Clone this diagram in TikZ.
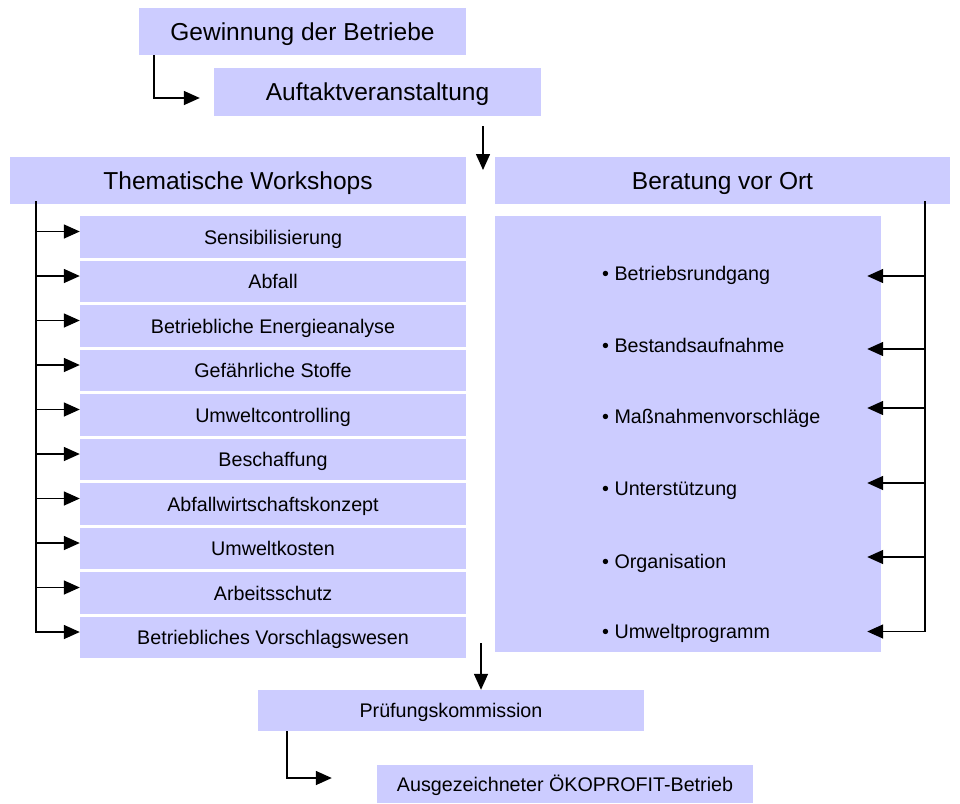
\documentclass[tikz,border=0pt]{standalone}
\usepackage{fontspec}
\setmainfont{Liberation Sans}
\usetikzlibrary{positioning,arrows.meta}
\definecolor{lila}{RGB}{204,204,255}

\begin{document}
\begin{tikzpicture}[x=1pt,y=1pt,
    box/.style={fill=lila,inner sep=0pt,minimum width=386pt,minimum height=41.5pt,
      text height=14.1pt,text depth=0pt,font=\fontsize{19.7}{24}\selectfont},
    head/.style={fill=lila,inner sep=0pt,minimum height=47pt,
      text height=17.5pt,text depth=0pt,font=\fontsize{24.5}{29}\selectfont},
    punkt/.style={inner sep=0pt,anchor=west,text height=14.1pt,text depth=0pt,
      font=\fontsize{19.7}{24}\selectfont},
    pfeil/.style={line width=1.5pt,-{Triangle[length=16pt,width=14pt]}},
    node distance=2.6pt]
  \useasboundingbox (0,0) rectangle (960,-803);

  % --- Start nodes ---
  \node[head,minimum width=327pt] (G) at (302.5,-31.5) {Gewinnung der Betriebe};
  \node[head,minimum width=327pt,minimum height=48pt] (A) at (377.5,-92) {Auftaktveranstaltung};
  \draw[pfeil] ([xshift=15pt]G.south west) |- ([xshift=-14pt,yshift=-6pt]A.west);

  % --- Two branches ---
  \node[head,minimum width=456pt] (T) at (238,-180.5) {Thematische Workshops};
  \node[head,minimum width=455pt] (B) at (722.5,-180.5) {Beratung vor Ort};
  \coordinate (o1) at (483,-126);
  \coordinate (o2) at (483,-170);
  \draw[pfeil] (o1) -- (o2);

  % --- Workshops placed below one another ---
  \node[box] (W1) at (273,-237) {Sensibilisierung};
  \node[box,below=of W1] (W2) {Abfall};
  \node[box,below=of W2] (W3) {Betriebliche Energieanalyse};
  \node[box,below=of W3] (W4) {Gefährliche Stoffe};
  \node[box,below=of W4] (W5) {Umweltcontrolling};
  \node[box,below=of W5] (W6) {Beschaffung};
  \node[box,below=of W6] (W7) {Abfallwirtschaftskonzept};
  \node[box,below=of W7] (W8) {Umweltkosten};
  \node[box,below=of W8] (W9) {Arbeitsschutz};
  \node[box,below=of W9] (W10) {Betriebliches Vorschlagswesen};

  % --- Workshop edges ---
  \coordinate (lt) at (36,-201);
  \draw[pfeil] (lt) |- ([yshift=5.5pt]W1.west);
  \draw[pfeil] (lt) |- ([yshift=5.5pt]W2.west);
  \draw[pfeil] (lt) |- ([yshift=5.5pt]W3.west);
  \draw[pfeil] (lt) |- ([yshift=5.5pt]W4.west);
  \draw[pfeil] (lt) |- ([yshift=5.5pt]W5.west);
  \draw[pfeil] (lt) |- ([yshift=5.5pt]W6.west);
  \draw[pfeil] (lt) |- ([yshift=5.5pt]W7.west);
  \draw[pfeil] (lt) |- ([yshift=5.5pt]W8.west);
  \draw[pfeil] (lt) |- ([yshift=5.5pt]W9.west);
  \draw[pfeil] (lt) |- ([yshift=5.5pt]W10.west);

  % --- Consulting block ---
  \node[fill=lila,inner sep=0pt,minimum width=386pt,minimum height=436pt] (V) at (688,-434) {};
  \node[punkt] (V1) at (602,-273.5) {• Betriebsrundgang};
  \node[punkt] (V2) at (602,-345) {• Bestandsaufnahme};
  \node[punkt] (V3) at (602,-416.5) {• Maßnahmenvorschläge};
  \node[punkt] (V4) at (602,-488.5) {• Unterstützung};
  \node[punkt] (V5) at (602,-561) {• Organisation};
  \node[punkt] (V6) at (602,-631.5) {• Umweltprogramm};

  % --- Consulting edges ---
  \coordinate (rt) at (925,-201);
  \draw[pfeil] (rt) |- ([xshift=-14pt,yshift=-2.5pt]V.east |- V1);
  \draw[pfeil] (rt) |- ([xshift=-14pt,yshift=-4pt]V.east |- V2);
  \draw[pfeil] (rt) |- ([xshift=-14pt,yshift=8.5pt]V.east |- V3);
  \draw[pfeil] (rt) |- ([xshift=-14pt,yshift=5.5pt]V.east |- V4);
  \draw[pfeil] (rt) |- ([xshift=-14pt,yshift=4pt]V.east |- V5);
  \draw[pfeil] (rt) |- ([xshift=-14pt]V.east |- V6);

  % --- End nodes ---
  \node[box,minimum height=41pt] (P) at (451,-710.5) {Prüfungskommission};
  \node[box,minimum width=376pt,minimum height=38pt] (E) at (565,-784) {Ausgezeichneter ÖKOPROFIT-Betrieb};
  \coordinate (o3) at (481,-643);
  \draw[pfeil] (o3) -- (o3 |- P.north);
  \draw[pfeil] ([xshift=29pt]P.south west) |- ([xshift=-45pt,yshift=6pt]E.west);
\end{tikzpicture}
\end{document}
